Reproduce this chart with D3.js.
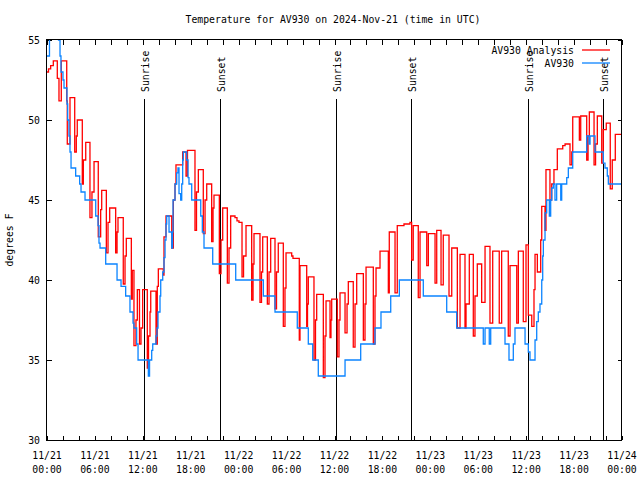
<!DOCTYPE html>
<html><head><meta charset="utf-8">
<script src="https://cdn.jsdelivr.net/npm/d3@7"></script>
<style>body{margin:0;background:#fff}svg{display:block}text{font-family:"DejaVu Sans Mono","Liberation Mono",monospace;font-size:9.8px;fill:#000}</style>
</head><body><svg id="c" width="640" height="480"></svg>
<script>
// time in hours since 2024-11-21 00:00 UTC, temperatures in degrees F
const obsTimes = [0,0.31,1.44,1.63,1.75,2.00,2.13,2.50,2.59,2.75,2.88,3.01,3.59,4.09,4.26,4.76,6.10,6.39,6.51,6.64,7.35,8.77,9.27,9.85,10.39,10.77,10.89,11.23,11.40,12.69,12.84,13.11,13.24,13.65,13.77,13.90,14.15,14.24,14.49,14.65,14.78,14.90,14.99,15.28,15.62,15.72,15.78,16.03,16.24,16.40,16.53,16.74,16.87,16.99,17.07,17.49,17.66,17.78,18.12,19.25,19.45,19.66,20.75,23.63,27.09,28.55,31.34,32.72,33.27,33.97,37.32,39.28,41.07,41.82,43.04,44.12,47.12,50.05,51.30,54.63,54.85,55.38,55.56,57.35,57.85,58.39,58.60,59.86,60.27,60.48,61.11,61.32,61.52,61.73,61.95,62.07,62.15,62.36,62.57,62.90,63.07,63.20,63.40,63.61,63.82,64.33,64.45,65.08,65.28,65.83,67.58,67.87,68.00,68.62,69.66,69.87,70.16,70.29,72];
const obsTemps = [54,56,55,54,53,52.5,52,51,50,49,48,47,46.5,46,45.5,45,44,43.4,42.3,42,41,40,39.6,39,38,37.3,37,36,35,34,35,35.6,36,36.5,37,38,39,40,40.5,41.4,42.5,43.5,44,43,42,43,45,46,46.7,47,45.4,45,46,47.5,48,47.5,46.4,46,45,44,43,42,41,40,39,38,37,36,35,34,35,36,37,38,39,40,39,38,37,36,37,36,37,36,35,36,37,36,35.5,35,36.25,37.4,38,38.5,40,41.5,42.5,44.2,45,44,45,45.75,46,45,46,45,46,46.4,47,48,49,48.5,49,48,47.3,47,46.5,46,46];
const anaTimes = [0,0.19,0.46,0.79,1.29,1.50,1.79,2.47,2.54,2.88,3.47,3.67,3.79,4.42,4.55,4.85,5.38,5.63,5.89,6.42,6.72,6.85,7.43,7.64,7.85,8.60,8.77,8.89,9.55,9.77,9.93,10.56,10.68,10.89,11.14,11.31,11.58,11.77,11.98,12.56,12.71,12.90,12.99,13.65,13.81,13.94,14.56,14.65,14.90,15.62,15.82,16.03,16.15,16.99,17.41,17.59,18.53,18.72,18.95,19.57,19.79,20.00,20.62,20.79,20.91,21.58,21.79,22.00,22.58,22.79,23.00,23.54,23.79,24.04,24.42,24.61,24.92,25.63,25.80,25.92,26.67,26.86,27.01,27.59,27.80,28.01,28.55,28.74,28.96,29.59,29.80,29.93,30.64,30.80,31.59,31.68,32.52,32.62,32.72,33.43,33.62,33.77,34.60,34.81,34.94,35.44,35.56,35.65,36.35,36.56,36.69,37.32,37.57,37.73,38.35,38.57,38.78,39.61,39.82,39.95,40.86,41.07,41.20,41.70,42.74,42.86,43.58,43.86,44.70,45.45,45.66,45.86,46.49,46.71,47.55,47.75,48.59,48.80,49.34,49.62,50.34,50.68,51.38,51.72,52.34,52.47,52.88,53.38,53.59,53.88,54.43,54.85,55.47,55.81,56.63,56.93,57.76,57.98,58.82,59.02,59.64,59.98,60.27,60.70,60.98,61.11,61.40,61.82,61.95,62.36,62.48,62.98,63.20,63.48,63.90,64.58,64.87,65.49,65.71,65.83,66.66,66.83,67.58,67.75,67.91,68.50,68.69,68.91,69.46,69.66,70.03,70.53,70.78,71.16,72];
const anaTemps = [53.0,53.2,53.4,53.7,52.6,51.2,53.7,51.2,48.5,51.4,48.0,49.0,50.0,46.0,47.5,48.6,43.9,45.5,47.4,42.7,44.4,45.6,41.7,43.6,44.5,41.7,43.0,43.9,39.75,41.5,42.6,38.8,40.6,35.9,37.5,39.4,36.0,37.0,39.4,34.5,36.5,38.0,39.3,36.0,39.6,40.7,40.3,42.7,44.0,42.0,45.0,46.0,47.2,48.0,46.5,48.1,43.1,45.5,46.9,42.9,45.0,46.0,42.4,44.5,45.3,40.4,42.5,44.5,39.8,42.0,44.0,43.9,43.7,43.6,40.2,41.5,43.4,38.75,41.0,42.9,38.6,40.5,42.7,38.5,40.5,42.6,38.2,40.5,42.3,37.1,39.5,41.7,41.5,41.35,36.25,40.9,37.1,38.5,40.2,35.0,37.5,39.1,33.9,36.5,38.7,36.4,37.5,38.8,35.2,37.5,39.2,36.7,38.5,39.9,35.8,38.5,40.4,36.25,38.5,40.8,36.0,39.0,40.75,41.8,39.2,43.0,39.2,43.4,43.5,43.6,41.25,43.4,38.9,43.0,40.9,42.9,39.8,43.1,39.7,42.8,39.0,42.0,37.0,41.6,37.0,38.5,41.6,36.5,39.0,41.0,38.6,42.1,37.3,41.8,37.3,41.8,36.5,40.9,37.3,41.8,37.4,42.2,37.8,37.1,39.4,41.6,40.5,42.5,44.6,43.1,46.9,45.0,46.0,46.9,48.2,48.4,48.5,47.2,48.0,50.2,48.75,50.25,47.5,49.0,50.5,47.2,48.5,50.25,47.3,49.4,49.8,45.7,47.5,49.1,49.1];
const sunTimes = [12.13, 21.62, 36.2, 45.58, 60.2, 69.6];
const sunLabels = ["Sunrise","Sunset","Sunrise","Sunset","Sunrise","Sunset"];
const yTicks = [30,35,40,45,50,55];
const xLabelTimes = [0,6,12,18,24,30,36,42,48,54,60,66,72];
const xLabelDates = ["11/21","11/21","11/21","11/21","11/22","11/22","11/22","11/22","11/23","11/23","11/23","11/23","11/24"];
const xLabelClock = ["00:00","06:00","12:00","18:00","00:00","06:00","12:00","18:00","00:00","06:00","12:00","18:00","00:00"];
const seriesNames = ["AV930 Analysis","AV930"];
const seriesColors = ["#ff0000","#0b84ff"];

const svg = d3.select("#c");
const L=47, R=622, T=40, B=440;
const x = d3.scaleLinear().domain([0,72]).range([L,R]);
const y = d3.scaleLinear().domain([30,55]).range([B,T]);

svg.append("defs").append("clipPath").attr("id","clip").append("rect")
  .attr("x",L).attr("y",T).attr("width",R-L).attr("height",B-T);

// ticks (inward, mirrored)
const minor = d3.range(0,72.01,2);
const g = svg.append("g").attr("shape-rendering","crispEdges").attr("stroke","#000");
minor.forEach(t=>{
  const px=Math.round(x(t))+0.5;
  g.append("line").attr("x1",px).attr("x2",px).attr("y1",B).attr("y2",B-4.5);
  g.append("line").attr("x1",px).attr("x2",px).attr("y1",T).attr("y2",T+4.5);
});
yTicks.forEach(v=>{
  const py=Math.round(y(v))+0.5;
  g.append("line").attr("x1",L).attr("x2",L+4.5).attr("y1",py).attr("y2",py);
  g.append("line").attr("x1",R-4.5).attr("x2",R).attr("y1",py).attr("y2",py);
  svg.append("text").attr("x",40).attr("y",y(v)+3.5).attr("text-anchor","end").text(v);
});
xLabelTimes.forEach((t,i)=>{
  svg.append("text").attr("x",x(t)).attr("y",459).attr("text-anchor","middle").text(xLabelDates[i]);
  svg.append("text").attr("x",x(t)).attr("y",473).attr("text-anchor","middle").text(xLabelClock[i]);
});

// sunrise / sunset lines
sunTimes.forEach((t,i)=>{
  const px=Math.round(x(t))+0.5;
  svg.append("line").attr("x1",px).attr("x2",px).attr("y1",99).attr("y2",B)
    .attr("stroke","#000").attr("shape-rendering","crispEdges");
  svg.append("text").attr("transform",`translate(${px+4},92) rotate(-90)`)
    .attr("text-anchor","start").text(sunLabels[i]);
});

// series
const line = d3.line().curve(d3.curveStepAfter).x(d=>x(d[0])).y(d=>y(d[1]));
const anaData = anaTimes.map((t,i)=>[t,anaTemps[i]]);
const obsData = obsTimes.map((t,i)=>[t,obsTemps[i]]);
const plot = svg.append("g").attr("clip-path","url(#clip)");
plot.append("path").datum(anaData).attr("d",line).attr("fill","none")
  .attr("stroke",seriesColors[0]).attr("stroke-width",1.3);
plot.append("path").datum(obsData).attr("d",line).attr("fill","none")
  .attr("stroke",seriesColors[1]).attr("stroke-width",1.3);

// frame
svg.append("rect").attr("x",L-0.5).attr("y",T-0.5).attr("width",R-L).attr("height",B-T+1)
  .attr("fill","none").attr("stroke","#000").attr("shape-rendering","crispEdges");

// legend
seriesNames.forEach((n,i)=>{
  const ly = 50 + i*13;
  svg.append("text").attr("x",574).attr("y",ly+3.5).attr("text-anchor","end").text(n);
  svg.append("line").attr("x1",582).attr("x2",610).attr("y1",ly).attr("y2",ly)
    .attr("stroke",seriesColors[i]).attr("stroke-width",1.3);
});

// titles
svg.append("text").attr("x",333).attr("y",23).attr("text-anchor","middle")
  .text("Temperature for AV930 on 2024-Nov-21 (time in UTC)");
svg.append("text").attr("transform","translate(13,240) rotate(-90)").attr("text-anchor","middle")
  .text("degrees F");
</script></body></html>
